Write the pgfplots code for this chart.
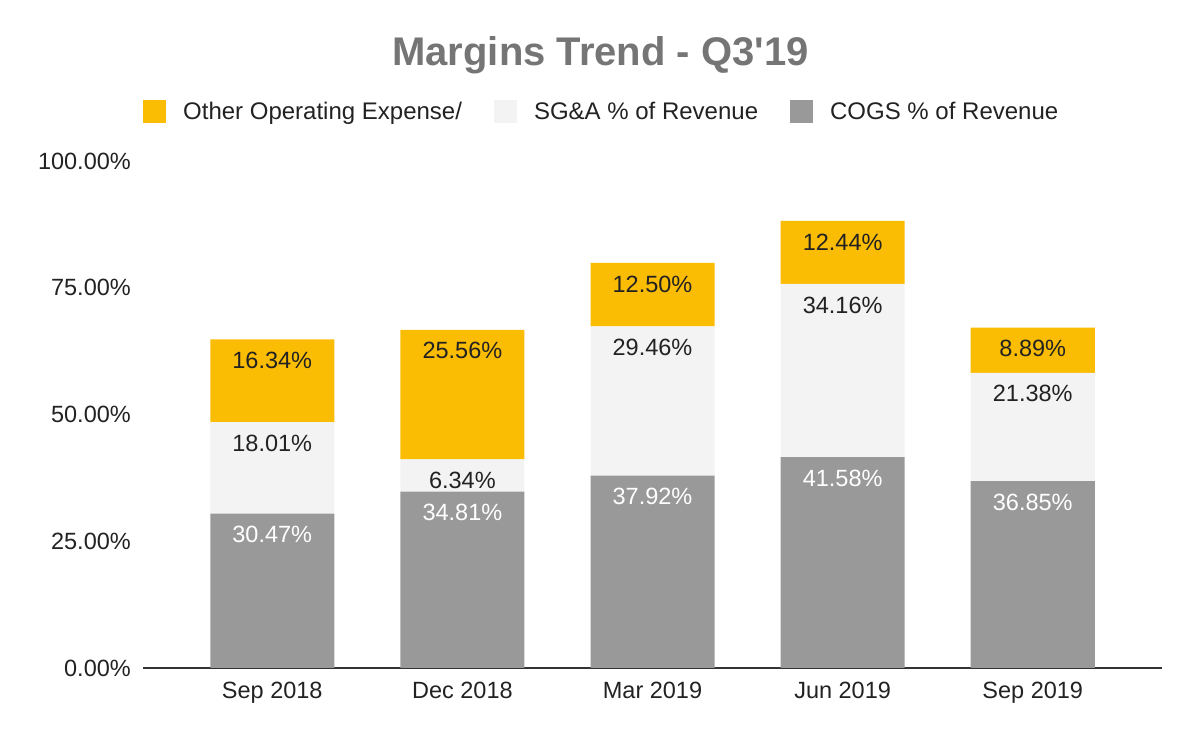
\documentclass[border=0pt]{standalone}
\usepackage{pgfplots}
\pgfplotsset{compat=1.18}
\usepackage{fontspec}
\setmainfont{Liberation Sans}
\definecolor{cogs}{HTML}{999999}
\definecolor{sga}{HTML}{F3F3F3}
\definecolor{other}{HTML}{FBBC04}
\definecolor{txt}{HTML}{222222}
\definecolor{ttl}{HTML}{757575}
\newcommand{\lbl}{\fontsize{23.5bp}{28bp}\selectfont}
\pgfplotsset{
  frame/.style={at={(143bp,74bp)}, anchor=south west,
    scale only axis, width=1019bp, height=507bp,
    xmin=-0.68, xmax=4.68, ymin=0, ymax=100},
}
\begin{document}
\begin{tikzpicture}[x=1bp,y=1bp]
\useasboundingbox (0,0) rectangle (1200,742);
\begin{axis}[
  frame,
  ybar stacked, bar width=124bp,
  axis x line=bottom, axis y line=left,
  x axis line style={-, draw=black!80, line width=1.3bp},
  y axis line style={draw=none},
  major tick length=0pt,
  xtick={0,1,2,3,4},
  xticklabels={Sep 2018,Dec 2018,Mar 2019,Jun 2019,Sep 2019},
  ytick={0,25,50,75,100},
  yticklabels={0.00\%,25.00\%,50.00\%,75.00\%,100.00\%},
  ticklabel style={font=\lbl, text=txt},
  yticklabel style={anchor=east, inner sep=0pt, xshift=-12bp},
  xticklabel style={anchor=north, inner sep=0pt, yshift=-14bp},
  title={Margins Trend - Q3\textquotesingle 19},
  title style={at={(0.449,1.1775)}, anchor=base, font=\bfseries\fontsize{40bp}{48bp}\selectfont, text=ttl},
  legend columns=3, reverse legend,
  legend cell align=left,
  legend style={at={(0,1.0967)}, anchor=west, draw=none, fill=none, inner sep=0pt,
    font=\fontsize{24bp}{28bp}\selectfont, text=txt, nodes={inner sep=0pt},
    /tikz/every odd column/.append style={column sep=17bp},
    /tikz/every even column/.append style={column sep=32bp}},
  legend image code/.code={\fill[#1] (0bp,-11.5bp) rectangle (23bp,11.5bp);},
]
\addplot[fill=cogs, draw=none] coordinates {
  (0,30.47) (1,34.81) (2,37.92) (3,41.58) (4,36.85)
};
\addplot[fill=sga, draw=none] coordinates {
  (0,18.01) (1,6.34) (2,29.46) (3,34.16) (4,21.38)
};
\addplot[fill=other, draw=none] coordinates {
  (0,16.34) (1,25.56) (2,12.50) (3,12.44) (4,8.89)
};
\legend{COGS \% of Revenue, SG\&A \% of Revenue, Other Operating Expense/}
\end{axis}
% segment labels: same frame, lines stacked (invisible), label just below each segment top
\begin{axis}[
  frame, hide axis, stack plots=y,
  point meta=explicit symbolic,
  nodes near coords={\pgfplotspointmeta\%},
  every node near coord/.append style={font=\lbl, anchor=center, yshift=-21bp, inner sep=0pt},
]
\addplot[draw=none, mark=none, nodes near coords style={text=white}] coordinates {
  (0,30.47) [30.47] (1,34.81) [34.81] (2,37.92) [37.92] (3,41.58) [41.58] (4,36.85) [36.85]
};
\addplot[draw=none, mark=none, nodes near coords style={text=txt}] coordinates {
  (0,18.01) [18.01] (1,6.34) [6.34] (2,29.46) [29.46] (3,34.16) [34.16] (4,21.38) [21.38]
};
\addplot[draw=none, mark=none, nodes near coords style={text=txt}] coordinates {
  (0,16.34) [16.34] (1,25.56) [25.56] (2,12.50) [12.50] (3,12.44) [12.44] (4,8.89) [8.89]
};
\end{axis}
\end{tikzpicture}
\end{document}
